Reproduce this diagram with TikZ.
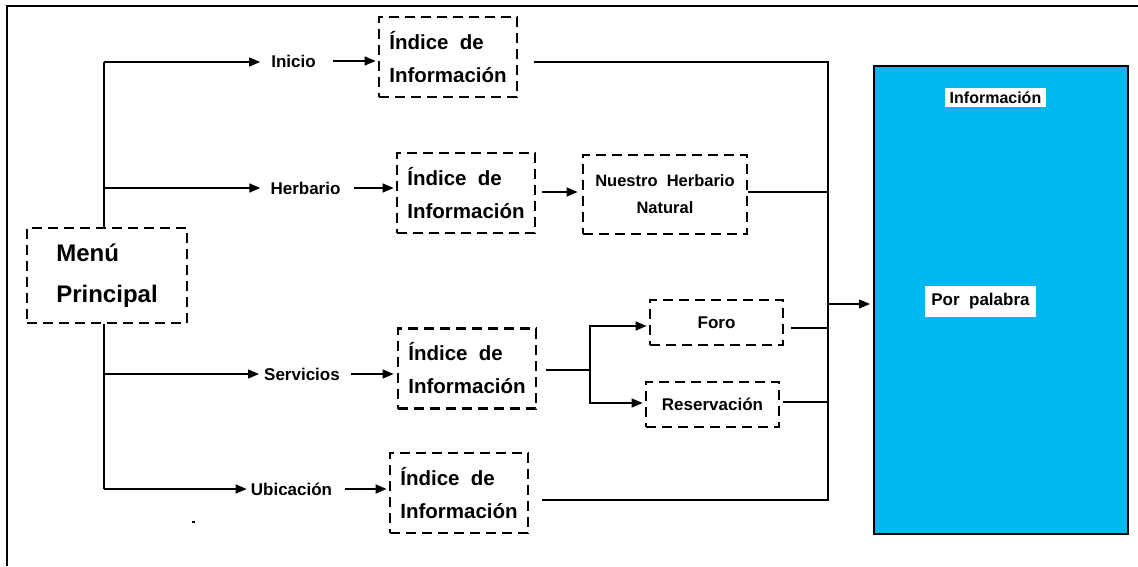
\documentclass[tikz,border=0pt]{standalone}
\usepackage{fontspec}
\setmainfont{Liberation Sans}
\usetikzlibrary{arrows.meta}
\definecolor{panelblue}{RGB}{0,183,239}

\tikzset{
  wire/.style={line width=1.3pt, draw=black},
  arr/.style={wire, -{Triangle[length=11pt,width=9pt]}},
  dbox/.style={draw, line width=2.8pt, dash pattern=on 10pt off 6pt,
    inner sep=0pt, anchor=center},
  idxbox/.style={dbox, minimum width=138pt, minimum height=80pt, align=left,
    font=\bfseries\fontsize{20.5}{33}\selectfont},
  smallbox/.style={dbox, minimum width=133pt, minimum height=45pt,
    font=\bfseries\fontsize{17}{20}\selectfont},
  lbl/.style={inner sep=0pt, anchor=center, font=\bfseries\fontsize{17}{20}\selectfont},
  tag/.style={fill=white, inner sep=0pt, anchor=center, font=\bfseries\fontsize{16}{20}\selectfont}
}

\begin{document}
\begin{tikzpicture}[x=1pt,y=-1pt]
  \useasboundingbox (0,0) rectangle (1138,566);

  % outer frame (top and left edges)
  \draw[line width=1.6pt] (7,566) -- (7,6) -- (1138,6);

  % main menu
  \node[dbox, minimum width=160pt, minimum height=95pt, align=left,
        font=\bfseries\fontsize{24}{41}\selectfont] (menu) at (107,275.5) {Menú\\Principal};

  % section labels
  \node[lbl] (inicio) at (293.5,61)  {Inicio};
  \node[lbl] (herb)   at (305.5,188) {Herbario};
  \node[lbl] (serv)   at (302,374)   {Servicios};
  \node[lbl] (ubic)   at (291.5,489) {Ubicación};

  % index boxes
  \node[idxbox] (box1) at (448,57)    {Índice\ \ de\\Información};
  \node[idxbox] (box2) at (466,193)   {Índice\ \ de\\Información};
  \node[idxbox] (box3) at (467,368.5) {Índice\ \ de\\Información};
  \node[idxbox] (box4) at (459,493)   {Índice\ \ de\\Información};

  % second level boxes
  \node[dbox, minimum width=164pt, minimum height=79pt, align=center,
        font=\bfseries\fontsize{16.5}{27}\selectfont] (nhn) at (665,194.5) {Nuestro\ \ Herbario\\Natural};
  \node[smallbox] (foro) at (716.5,322.5) {Foro};
  \node[smallbox] (res)  at (712.5,404.5) {Reservación};

  % information panel
  \node[draw, line width=2pt, fill=panelblue, minimum width=254pt, minimum height=468pt,
        inner sep=0pt, anchor=center] (big) at (1001,300) {};
  \node[tag, minimum width=101pt, minimum height=19pt, font=\bfseries\fontsize{16}{18}\selectfont]
        (info) at (995.5,97.5) {Información};
  \node[tag, minimum width=111pt, minimum height=31pt, font=\bfseries\fontsize{17}{20}\selectfont]
        (por) at (980.5,301.5) {Por\ \ palabra};

  % trunk from the main menu
  \coordinate (jt) at (104,62);
  \coordinate (jb) at (104,489);
  \draw[wire] (menu.north -| jt) -- (jt);
  \draw[wire] (menu.south -| jb) -- (jb);
  \draw[arr] (jt) -- ([xshift=-11]inicio.west |- jt);
  \draw[arr] (jt |- herb) -- ([xshift=-10]herb.west);
  \draw[arr] (jt |- serv) -- ([xshift=-5]serv.west);
  \draw[arr] (jb) -- ([xshift=-4]ubic.west);

  % labels into index boxes
  \draw[arr] ([xshift=17]inicio.east) -- ([xshift=-2]box1.west |- inicio.east);
  \draw[arr] ([xshift=13]herb.east) -- ([xshift=-2]box2.west |- herb.east);
  \draw[arr] ([xshift=11]serv.east) -- ([xshift=-3]box3.west |- serv.east);
  \draw[arr] ([xshift=13]ubic.east) -- ([xshift=-2]box4.west |- ubic.east);

  % herbarium branch (y axis points down, so yshift is inverted)
  \path ([xshift=6,yshift=1]box2.east) coordinate (hbout);
  \draw[arr] (hbout) -- ([xshift=-4]nhn.west |- hbout);

  % services split
  \coordinate (sj) at (590,370);
  \path ([xshift=-2,yshift=-3.5]foro.west) coordinate (foroin);
  \path ([xshift=-2,yshift=1.5]res.west) coordinate (resin);
  \draw[wire] ([xshift=9]box3.east |- sj) -- (sj);
  \draw[arr] (sj) |- (foroin);
  \draw[arr] (sj) |- (resin);

  % collector towards the information panel
  \coordinate (ctop) at (828,62);
  \coordinate (cbot) at (828,500);
  \draw[wire] ([xshift=16]box1.east |- ctop) -- (ctop) -- (cbot) -- ([xshift=13]box4.east |- cbot);
  \path ([yshift=2.5]nhn.east) coordinate (nhnout);
  \path ([xshift=7,yshift=-5.5]foro.east) coordinate (foroout);
  \path ([xshift=3,yshift=2.5]res.east) coordinate (resout);
  \path ([yshift=-2.5]por.west) coordinate (porlvl);
  \draw[wire] (nhnout) -- (ctop |- nhnout);
  \draw[wire] (foroout) -- (ctop |- foroout);
  \draw[wire] (resout) -- (ctop |- resout);
  \draw[arr] (ctop |- porlvl) -- ([xshift=-3]big.west |- porlvl);

  % small stray mark
  \fill (192,521) rectangle (195,523);
\end{tikzpicture}
\end{document}
